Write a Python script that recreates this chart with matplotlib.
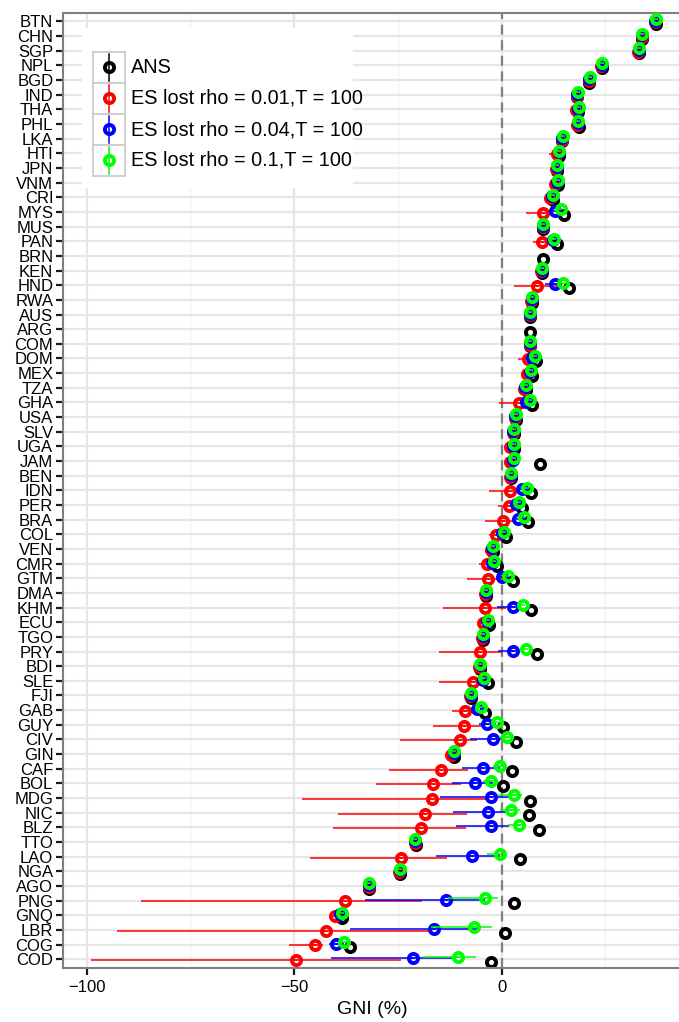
import numpy as np
import matplotlib
matplotlib.use("Agg")
import matplotlib.pyplot as plt
from matplotlib.lines import Line2D
from matplotlib.patches import Rectangle

plt.rcParams["font.family"] = ["Liberation Sans", "DejaVu Sans"]
nan = np.nan

# 위에서 아래 순서
countries = ["BTN", "CHN", "SGP", "NPL", "BGD", "IND", "THA", "PHL", "LKA", "HTI", "JPN", "VNM", "CRI",
             "MYS", "MUS", "PAN", "BRN", "KEN", "HND", "RWA", "AUS", "ARG", "COM", "DOM", "MEX", "TZA",
             "GHA", "USA", "SLV", "UGA", "JAM", "BEN", "IDN", "PER", "BRA", "COL", "VEN", "CMR", "GTM",
             "DMA", "KHM", "ECU", "TGO", "PRY", "BDI", "SLE", "FJI", "GAB", "GUY", "CIV", "GIN", "CAF",
             "BOL", "MDG", "NIC", "BLZ", "TTO", "LAO", "NGA", "AGO", "PNG", "GNQ", "LBR", "COG", "COD"]

ans = [37.1, 33.9, 33.0, 24.1, 21.1, 18.2, 18.4, 18.5, 14.6, 13.9, 13.2, 13.6, 12.4,
       15.0, 10.0, 13.4, 9.9, 9.6, 16.1, 7.4, 6.8, 6.7, 6.8, 8.3, 7.3, 5.9,
       7.3, 3.4, 2.9, 3.0, 9.2, 2.2, 7.0, 4.8, 6.4, 1.1, -2.2, -1.2, 2.7,
       -3.9, 7.1, -3.1, -4.5, 8.4, -5.3, -3.4, -7.3, -4.0, 0.3, 3.5, -11.4, 2.4,
       0.3, 6.9, 6.5, 8.9, -20.7, 4.4, -24.6, -31.9, 3.0, -38.4, 0.9, -36.5, -2.5]

es001 = [37.0, 33.7, 32.9, 24.0, 21.0, 18.1, 17.9, 18.2, 14.5, 13.2, 13.1, 12.9, 11.6,
         9.9, 9.9, 9.7, nan, 9.5, 8.5, 7.1, 6.7, nan, 6.7, 6.3, 6.2, 5.3,
         4.1, 3.2, 2.7, 2.1, 2.0, 2.1, 2.0, 1.7, 0.3, -1.4, -2.5, -3.6, -3.4,
         -4.0, -4.1, -4.5, -4.8, -5.3, -5.5, -6.9, -7.6, -8.8, -9.1, -10.1, -12.2, -14.6,
         -16.6, -16.8, -18.5, -19.4, -21.0, -24.3, -24.8, -32.0, -37.8, -40.1, -42.3, -45.0, -49.6]
es001_lo = [nan, nan, nan, nan, nan, nan, nan, nan, nan, 11.4, nan, nan, nan,
            5.9, nan, 7.6, nan, nan, 2.9, nan, nan, nan, nan, 3.8, nan, nan,
            -0.7, nan, nan, nan, nan, nan, -3.0, -0.9, -4.1, -3.0, nan, -5.4, -8.3,
            nan, -14.1, nan, nan, -15.1, nan, -15.1, nan, -12.0, -16.6, -24.5, -13.5, -27.2,
            -30.4, -48.1, -39.5, -40.6, nan, -46.2, nan, nan, -86.8, nan, -92.7, -51.2, -99.0]
es001_hi = [nan, nan, nan, nan, nan, nan, nan, nan, nan, 13.6, nan, nan, nan,
            11.2, nan, 10.5, nan, nan, 13.5, nan, nan, nan, nan, 7.0, nan, nan,
            6.0, nan, nan, nan, nan, nan, 4.5, 3.0, 3.5, 0.0, nan, -2.0, 0.5,
            nan, 1.0, nan, nan, 0.0, nan, -3.5, nan, -5.5, -4.0, -6.0, -11.0, -8.2,
            -9.9, -3.0, -8.4, -8.6, nan, -13.2, nan, nan, -19.2, nan, -17.1, -43.0, -24.2]

es004 = [37.0, 33.8, 33.0, 24.1, 21.1, 18.2, 18.3, 18.3, 14.6, 13.7, 13.2, 13.3, 12.0,
         12.9, 10.0, 12.3, nan, 9.6, 12.9, 7.3, 6.8, nan, 6.8, 7.3, 6.8, 5.7,
         5.8, 3.3, 2.8, 2.6, 2.6, 2.2, 4.9, 3.5, 3.8, 0.0, -2.3, -2.3, 0.1,
         -3.9, 2.6, -3.5, -4.6, 2.8, -5.3, -4.6, -7.4, -5.9, -3.6, -2.0, -11.6, -4.6,
         -6.4, -2.5, -3.4, -2.5, -20.8, -7.1, -24.6, -31.9, -13.4, -39.0, -16.4, -39.9, -21.3]
es004_lo = [nan, nan, nan, nan, nan, nan, nan, nan, nan, nan, nan, nan, nan,
            nan, nan, nan, nan, nan, 10.5, nan, nan, nan, nan, nan, nan, nan,
            nan, nan, nan, nan, nan, nan, 3.5, nan, nan, nan, nan, nan, -1.0,
            nan, -1.2, nan, nan, -1.0, nan, nan, nan, nan, -5.5, -7.7, nan, -9.5,
            -12.0, -14.8, -11.7, -10.9, nan, -15.9, nan, nan, -32.9, nan, -36.6, -41.5, -41.1]
es004_hi = [nan, nan, nan, nan, nan, nan, nan, nan, nan, nan, nan, nan, nan,
            nan, nan, nan, nan, nan, 14.5, nan, nan, nan, nan, nan, nan, nan,
            nan, nan, nan, nan, nan, nan, 6.0, nan, nan, nan, nan, nan, 1.0,
            nan, 4.0, nan, nan, 4.0, nan, nan, nan, nan, -1.5, 0.5, nan, -0.5,
            -2.0, 2.5, 1.0, 1.7, nan, -0.5, nan, nan, -4.0, nan, -6.0, -38.0, -12.0]

es01 = [37.1, 33.9, 33.0, 24.2, 21.2, 18.3, 18.5, 18.4, 14.7, 13.9, 13.3, 13.6, 12.3,
        14.2, 10.0, 12.7, nan, 9.7, 14.8, 7.4, 6.8, nan, 6.9, 7.9, 7.0, 5.9,
        6.8, 3.4, 2.9, 2.9, 3.0, 2.2, 6.2, 4.1, 5.4, 0.5, -2.2, -1.8, 1.6,
        -3.8, 5.2, -3.2, -4.4, 5.8, -5.3, -4.2, -7.3, -4.9, -1.2, 1.2, -11.5, -0.5,
        -2.6, 2.9, 2.2, 4.1, -20.8, -0.4, -24.6, -31.9, -4.1, -38.6, -6.6, -37.9, -10.5]
es01_lo = [nan, nan, nan, nan, nan, nan, nan, nan, nan, nan, nan, nan, nan,
           nan, nan, nan, nan, nan, nan, nan, nan, nan, nan, nan, nan, nan,
           nan, nan, nan, nan, nan, nan, nan, nan, nan, nan, nan, nan, nan,
           nan, nan, nan, nan, nan, nan, nan, nan, nan, nan, -0.5, nan, -2.0,
           -4.5, -1.0, -0.5, 1.5, nan, -3.5, nan, nan, -13.0, nan, -17.0, -39.0, -19.0]
es01_hi = [nan, nan, nan, nan, nan, nan, nan, nan, nan, nan, nan, nan, nan,
           nan, nan, nan, nan, nan, nan, nan, nan, nan, nan, nan, nan, nan,
           nan, nan, nan, nan, nan, nan, nan, nan, nan, nan, nan, nan, nan,
           nan, nan, nan, nan, nan, nan, nan, nan, nan, nan, 2.5, nan, 1.0,
           -1.0, 5.0, 4.5, 5.8, nan, 1.2, nan, nan, -0.9, nan, -2.3, -36.5, -6.3]

labels = ["ANS", "ES lost rho = 0.01,T = 100", "ES lost rho = 0.04,T = 100", "ES lost rho = 0.1,T = 100"]
colors = ["black", "#ff0000", "#0000ff", "#00ff00"]
dodge = [-0.18, -0.06, 0.06, 0.18]
MS, MEW = 6.6, 2.8

W, H = 679, 1022
fig = plt.figure(figsize=(W / 100, H / 100), dpi=100)
ax = fig.add_axes([63 / W, 1 - 968 / H, 1.003 - 63 / W, (968 - 12.7) / H])

n = len(countries)
ypos = np.arange(n)[::-1].astype(float)

ax.set_xlim(-105.7, 43.2)
ax.set_ylim(-0.6, n - 0.4)
ax.set_yticks(ypos)
ax.set_yticklabels(countries)
ax.set_xticks([-100, -50, 0])
ax.set_xticklabels(["\u2212100", "\u221250", "0"])
ax.set_xticks([-75, -25, 25], minor=True)
ax.grid(True, which="major", color="#e6e6e6", lw=1.6, zorder=0)
ax.grid(True, which="minor", axis="x", color="#f4f4f4", lw=1.0, zorder=0)
ax.set_axisbelow(True)
ax.axvline(0, color="#7f7f7f", lw=1.6, ls=(0, (4.5, 2.5)), zorder=1)

series = [(ans, None, None), (es001, es001_lo, es001_hi), (es004, es004_lo, es004_hi), (es01, es01_lo, es01_hi)]
for k, (v, lo, hi) in enumerate(series):
    y = ypos + dodge[k]
    v = np.array(v, float)
    if lo is not None:
        lo = np.array(lo, float); hi = np.array(hi, float)
        m = ~np.isnan(lo)
        ax.hlines(y[m], lo[m], hi[m], color=colors[k], lw=1.1, zorder=2 + k)
    ax.plot(v, y, ls="none", marker="o", ms=MS, mew=MEW, mfc="none", mec=colors[k], zorder=2.5 + k)
    if k > 0:
        ax.plot(v, y, ls="none", marker="_", ms=3.2, mew=1.1, color=colors[k], zorder=2.5 + k)

for s in ["left", "bottom", "top"]:
    ax.spines[s].set_color("#7f7f7f")
    ax.spines[s].set_linewidth(1.5)
ax.spines["right"].set_visible(False)
ax.tick_params(axis="both", which="major", length=5, width=1.6, color="#1a1a1a", labelsize=12,
               labelcolor="black", pad=2)
ax.tick_params(axis="x", which="major", pad=4)
ax.tick_params(axis="both", which="minor", length=0)
ax.set_xlabel("GNI (%)", fontsize=14, labelpad=4)

# 범례 (수동)
fx = lambda p: p / W
fy = lambda p: 1 - p / H
fig.add_artist(Rectangle((fx(82), fy(188)), fx(353) - fx(82), fy(28) - fy(188),
                         transform=fig.transFigure, facecolor="white", edgecolor="none", zorder=5))
for k in range(4):
    top = 52 + 31 * k
    fig.add_artist(Rectangle((fx(93), fy(top + 31)), fx(125) - fx(93), fy(top) - fy(top + 31),
                             transform=fig.transFigure, facecolor="white", edgecolor="#cccccc", lw=1.3, zorder=6))
    cy = top + 15.5
    fig.add_artist(Line2D([fx(109), fx(109)], [fy(cy - 13.5), fy(cy + 13.5)], transform=fig.transFigure,
                          color=colors[k], lw=1.1, zorder=7))
    fig.add_artist(Line2D([fx(109)], [fy(cy)], transform=fig.transFigure, ls="none", marker="o",
                          ms=MS, mew=MEW, mfc="none", mec=colors[k], zorder=8))
    fig.text(fx(131), fy(cy), labels[k], fontsize=14.3, va="center", ha="left", zorder=9)

fig.savefig("out.png", dpi=100)
